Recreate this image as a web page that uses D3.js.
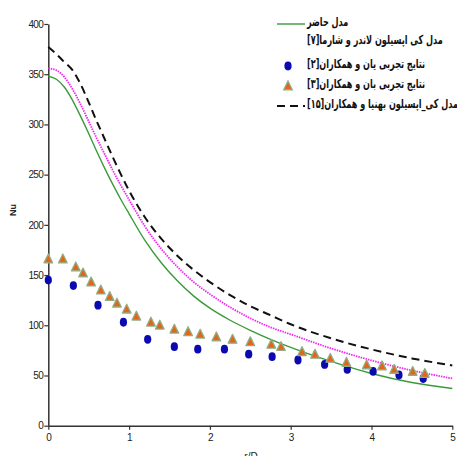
<!DOCTYPE html>
<html>
<head>
<meta charset="utf-8">
<script src="https://cdn.jsdelivr.net/npm/d3@7"></script>
<style>
html,body{margin:0;padding:0;background:#fff;}
svg{display:block;}
</style>
</head>
<body>
<svg id="chart" width="457" height="456"></svg>
<script>
// ---- data ----
const xTicks = [0, 1, 2, 3, 4, 5];
const yTicks = [0, 50, 100, 150, 200, 250, 300, 350, 400];

const legendLabels = [
  "مدل حاضر",
  "مدل کی اپسیلون لاندر و شارما[۷]",
  "نتایج تجربی یان و همکاران[۲]",
  "نتایج تجربی بان و همکاران[۳]",
  "مدل کی_اپسیلون بهنیا و همکاران[۱۵]"
];

// present model (green)
const modelX = [0, 0.1, 0.2, 0.3, 0.4, 0.5, 0.6, 0.7, 0.8, 0.9, 1.0, 1.2, 1.4, 1.6, 1.8, 2.0, 2.25, 2.5, 2.75, 3.0, 3.5, 4.0, 4.5, 5.0];
const modelNu = [348, 345, 337, 324, 308, 291, 273, 256, 240, 225, 211, 184, 162, 144, 129, 117, 105, 95, 86, 78, 64, 52, 43, 37];

// k-epsilon Launder & Sharma (magenta dotted)
const lsX = [0, 0.1, 0.2, 0.3, 0.4, 0.5, 0.6, 0.7, 0.8, 0.9, 1.0, 1.2, 1.4, 1.6, 1.8, 2.0, 2.25, 2.5, 2.75, 3.0, 3.5, 4.0, 4.5, 5.0];
const lsNu = [356, 354, 347, 335, 320, 303, 286, 270, 254, 239, 225, 198, 176, 158, 143, 131, 118, 107, 98, 91, 77, 65, 55, 47];

// k-epsilon Behnia et al. (black dashed)
const bhX = [0, 0.1, 0.2, 0.3, 0.4, 0.5, 0.6, 0.7, 0.8, 0.9, 1.0, 1.2, 1.4, 1.6, 1.8, 2.0, 2.25, 2.5, 2.75, 3.0, 3.5, 4.0, 4.5, 5.0];
const bhNu = [377, 370, 362, 354, 340, 322, 303, 285, 267, 250, 234, 207, 186, 169, 155, 143, 130, 119, 110, 101, 87, 76, 67, 60];

// Yan et al. experiment (blue circles)
const yanX = [0, 0.31, 0.615, 0.93, 1.23, 1.56, 1.85, 2.18, 2.48, 2.77, 3.09, 3.42, 3.70, 4.02, 4.34, 4.64];
const yanNu = [145, 139.5, 120, 103, 86, 78.7, 76.2, 76.2, 71.2, 68.7, 65.4, 61, 56, 54, 50.5, 47];

// Baughn et al. experiment (triangles)
const baX = [0, 0.18, 0.34, 0.43, 0.53, 0.65, 0.76, 0.85, 0.97, 1.09, 1.27, 1.38, 1.56, 1.73, 1.88, 2.08, 2.28, 2.50, 2.76, 2.88, 3.14, 3.30, 3.49, 3.69, 3.94, 4.13, 4.28, 4.51, 4.66];
const baNu = [166, 166, 158, 152, 143, 135, 128.5, 122, 116, 109, 103, 100, 96, 93.5, 91, 88.3, 86, 83.5, 81, 78.7, 73.7, 71, 67, 63, 60.5, 59.5, 56, 54, 52];

// ---- chart ----
const svg = d3.select("#chart");
const x = d3.scaleLinear().domain([0, 5]).range([48.3, 452.3]);
const y = d3.scaleLinear().domain([0, 400]).range([425.7, 24]);

const tickFont = "'Liberation Sans', Arial, sans-serif";

// axes
const yAxis = svg.append("g").attr("transform", `translate(${x(0)},0)`)
  .call(d3.axisLeft(y).tickValues(yTicks).tickFormat(d3.format("d")).tickSize(4).tickSizeOuter(0).tickPadding(1));
const xAxis = svg.append("g").attr("transform", `translate(0,${y(0)})`)
  .call(d3.axisBottom(x).tickValues(xTicks).tickFormat(d3.format("d")).tickSize(4).tickSizeOuter(0).tickPadding(4));
[xAxis, yAxis].forEach(g => {
  g.select(".domain").attr("stroke", "#333").attr("stroke-width", 1.5);
  g.selectAll(".tick line").attr("stroke", "#333").attr("stroke-width", 1.2);
  g.selectAll(".tick text").attr("fill", "#222").style("font-family", tickFont).style("font-size", "10px").style("letter-spacing", "-0.6px");
});

// axis titles
svg.append("text").attr("transform", `translate(16,210) rotate(-90)`)
  .attr("text-anchor", "middle").style("font-family", tickFont).style("font-size", "9px").style("font-weight", "bold")
  .attr("fill", "#222").text("Nu");
svg.append("text").attr("x", 251).attr("y", 460).attr("text-anchor", "middle")
  .style("font-family", tickFont).style("font-size", "10px").attr("fill", "#222").text("r/D");

// lines
const lineGen = d3.line().x(d => x(d[0])).y(d => y(d[1])).curve(d3.curveMonotoneX);
const zip = (a, b) => a.map((v, i) => [v, b[i]]);

svg.append("path").datum(zip(modelX, modelNu)).attr("d", lineGen)
  .attr("fill", "none").attr("stroke", "#3a9a3a").attr("stroke-width", 1.4);
svg.append("path").datum(zip(lsX, lsNu)).attr("d", lineGen)
  .attr("fill", "none").attr("stroke", "#f028f0").attr("stroke-width", 1.8).attr("stroke-dasharray", "1.5,1");
svg.append("path").datum(zip(bhX, bhNu)).attr("d", lineGen)
  .attr("fill", "none").attr("stroke", "#111").attr("stroke-width", 2).attr("stroke-dasharray", "8,5");

// markers
svg.append("g").selectAll("ellipse").data(zip(yanX, yanNu)).join("ellipse")
  .attr("cx", d => x(d[0])).attr("cy", d => y(d[1])).attr("rx", 3.6).attr("ry", 4.4)
  .attr("fill", "#0a0ab0");
const tri = (cx, cy) => `M${cx},${cy - 5} L${cx + 4.3},${cy + 3.8} L${cx - 4.3},${cy + 3.8} Z`;
svg.append("g").selectAll("path").data(zip(baX, baNu)).join("path")
  .attr("d", d => tri(x(d[0]), y(d[1])))
  .attr("fill", "#e2661a").attr("stroke", "#8fae86").attr("stroke-width", 1.3).attr("stroke-linejoin", "round");

// legend
const lg = svg.append("g");
const legY = [24, 42, 66, 86, 106];
const legFont = "'DejaVu Sans', sans-serif";
lg.append("line").attr("x1", 277).attr("x2", 305).attr("y1", legY[0]).attr("y2", legY[0]).attr("stroke", "#3a9a3a").attr("stroke-width", 1.4);
lg.append("ellipse").attr("cx", 288).attr("cy", legY[2]).attr("rx", 3.6).attr("ry", 4.4).attr("fill", "#0a0ab0");
lg.append("path").attr("d", tri(288, legY[3])).attr("fill", "#e2661a").attr("stroke", "#8fae86").attr("stroke-width", 1.3);
lg.append("line").attr("x1", 277).attr("x2", 305).attr("y1", legY[4]).attr("y2", legY[4]).attr("stroke", "#111").attr("stroke-width", 2).attr("stroke-dasharray", "8,5");
const legX = 307;
const legTexts = lg.selectAll("text.leg").data(legendLabels).join("text").attr("class", "leg")
  .attr("x", legX).attr("y", (d, i) => legY[i] - 2)
  .attr("dominant-baseline", "middle")
  .style("font-family", legFont).style("font-size", "12.5px").style("font-weight", "bold")
  .attr("fill", "#111")
  .text(d => "\u200F" + d + "\u200F");
// compress horizontally to the narrow face of the original
const w2 = legTexts.nodes()[1].getComputedTextLength();
const sx = Math.min(1, 136 / w2);
legTexts.attr("transform", (d, i) => `translate(${legX},0) scale(${sx},1) translate(${-legX},0)`);
</script>
</body>
</html>
